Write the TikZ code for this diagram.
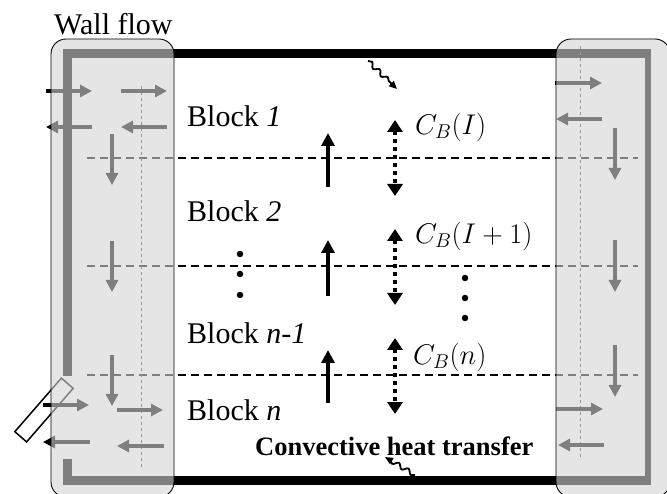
\RequirePackage{fix-cm}
\documentclass[tikz,border=0pt]{standalone}
\usepackage{fontspec}
\setmainfont{Liberation Serif}
\usetikzlibrary{arrows.meta, decorations.pathmorphing}
\definecolor{panelcolor}{gray}{0.83}

\begin{document}
\begin{tikzpicture}[
    x=1pt, y=-1pt,
    wall/.style={line width=9pt},
    panel/.style={draw, line width=0.9pt, fill=panelcolor, fill opacity=0.6, rounded corners=15pt},
    flow/.style={-{Triangle[length=12pt, width=12pt]}, line width=3.2pt},
    buoyancy/.style={-{Triangle[length=13pt, width=13pt]}, line width=3.6pt},
    mixing/.style={{Triangle[length=12pt, width=15pt]}-{Triangle[length=12pt, width=15pt]}, line width=4pt, dash pattern=on 4pt off 4pt},
    level/.style={line width=1.7pt, dash pattern=on 8pt off 5pt},
    axis/.style={line width=0.6pt, black!75, dash pattern=on 3pt off 3pt},
    heat/.style={-{Triangle[length=8pt, width=7pt]}, line width=1.8pt, decorate, decoration={snake, segment length=11pt, amplitude=2.2pt, post=lineto, post length=6pt}},
    dot/.style={circle, fill, inner sep=0pt, minimum size=6.5pt},
    blocklabel/.style={anchor=west, inner sep=0pt, font=\fontsize{30}{34}\selectfont},
    sizelabel/.style={anchor=west, inner sep=0pt, font=\fontsize{28.5}{34}\selectfont}
]
    \useasboundingbox (0,0) rectangle (667,494);

    % Walls
    \draw[wall, line join=miter] (67.5,376) -- (67.5,53.5) -- (651,53.5);
    \draw[wall] (67.5,459) -- (67.5,480) -- (651,480);
    \draw[line width=6pt] (648,49) -- (648,484);
    \node[draw, line width=1.5pt, minimum width=71pt, minimum height=15.6pt, inner sep=0pt, rotate=49] (window) at (44,410) {};

    % Block levels
    \draw[level] (87,158) -- (638,158);
    \draw[level] (87,266) -- (638,266);
    \draw[level] (87,375) -- (638,375);
    \draw[axis] (141,86) -- (141,467);
    \draw[axis] (580,46) -- (580,460);

    % Wall flow, left
    \draw[flow] (46,91) -- (92,91);
    \draw[flow] (121,91) -- (167,91);
    \draw[flow] (92,127) -- (46,127);
    \draw[flow] (167,127) -- (121,127);
    \draw[flow] (112,134) -- (112,185);
    \draw[flow] (112,241) -- (112,292);
    \draw[flow] (112,355) -- (112,406);
    \draw[flow] (43,405) -- (89,405);
    \draw[flow] (117,410) -- (163,410);
    \draw[flow] (90,442) -- (43,442);
    \draw[flow] (164,446) -- (117,446);

    % Wall flow, right
    \draw[flow] (555,83) -- (602,83);
    \draw[flow] (602,119) -- (556,119);
    \draw[flow] (615,128) -- (615,180);
    \draw[flow] (615,240) -- (615,292);
    \draw[flow] (615,345) -- (615,397);
    \draw[flow] (556,409) -- (603,409);
    \draw[flow] (604,445) -- (558,445);

    % Panels
    \node[panel, minimum width=123pt, minimum height=458pt] (leftPanel) at (112.5,268) {};
    \node[panel, minimum width=114pt, minimum height=458pt] (rightPanel) at (613,268) {};

    % Core flow
    \draw[buoyancy] (328,187) -- (328,133);
    \draw[buoyancy] (328,296) -- (328,240);
    \draw[buoyancy] (328,403) -- (328,350);
    \draw[mixing] (395,120) -- (395,196);
    \draw[mixing] (395,229) -- (395,305);
    \draw[mixing] (395,338) -- (395,414);

    % Continuation dots
    \node[dot] (dotA) at (240,254) {};
    \node[dot] (dotB) at (240,274) {};
    \node[dot] (dotC) at (240,295) {};
    \node[dot] (dotD) at (465,278) {};
    \node[dot] (dotE) at (465,298) {};
    \node[dot] (dotF) at (465,318) {};

    % Heat transfer
    \draw[heat] (368,61) -- (397,89);
    \draw[heat] (415,475) -- (385,457);

    % Labels
    \node[blocklabel] (wallLabel) at (54,24) {Wall flow};
    \node[blocklabel] (blockOne) at (187,116) {Block \textit{1}};
    \node[blocklabel] (blockTwo) at (187,211) {Block \textit{2}};
    \node[blocklabel] (blockPrev) at (187,333) {Block \textit{n-1}};
    \node[blocklabel] (blockLast) at (187,410) {Block \textit{n}};
    \node[sizelabel] (sizeOne) at (415,127) {$C_B(I)$};
    \node[sizelabel] (sizeTwo) at (415,236) {$C_B(I+1)$};
    \node[sizelabel] (sizeLast) at (413,357) {$C_B(n)$};
    \node[anchor=west, inner sep=0pt, font=\fontsize{26.5}{30}\selectfont\bfseries] (convLabel) at (255,446) {Convective heat transfer};
\end{tikzpicture}
\end{document}
